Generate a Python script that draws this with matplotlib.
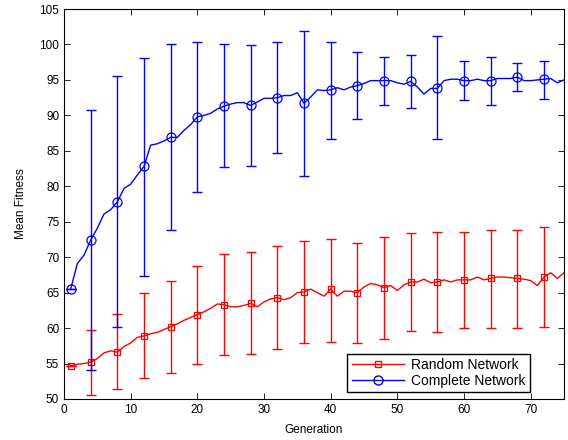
"""
Mean fitness per generation: random vs complete network.
"""

import matplotlib
matplotlib.use('Agg')
import matplotlib.pyplot as plt

# ── Data ──────────────────────────────────────────────────────
generations = list(range(1, 76))

random_mean = [
    54.7, 54.9, 55.0, 55.2, 55.7, 56.5, 56.8, 56.6, 57.4, 57.9,
    58.7, 58.9, 59.2, 59.4, 59.8, 60.2, 60.6, 61.1, 61.5, 61.9,
    62.3, 62.8, 63.4, 63.3, 63.0, 63.0, 63.2, 63.5, 63.0, 63.7,
    64.1, 64.3, 64.0, 64.3, 65.0, 65.1, 65.5, 65.0, 64.5, 65.5,
    64.5, 65.2, 65.2, 65.0, 65.8, 66.3, 66.1, 65.7, 66.0, 65.3,
    66.1, 66.5, 66.5, 66.9, 66.4, 66.5, 66.8, 66.5, 66.8, 66.8,
    66.8, 67.2, 66.8, 67.0, 67.2, 67.2, 67.1, 67.0, 66.9, 66.7,
    66.0, 67.2, 67.8, 67.0, 67.8,
]

complete_mean = [
    65.5, 69.1, 70.3, 72.4, 74.1, 76.1, 76.7, 77.8, 79.7, 80.3,
    81.6, 82.8, 85.8, 86.0, 86.4, 86.9, 86.9, 87.9, 88.7, 89.8,
    90.0, 90.3, 90.9, 91.3, 91.6, 91.8, 91.8, 91.4, 91.9, 92.4,
    92.4, 92.5, 92.8, 92.8, 93.2, 91.7, 92.6, 93.6, 93.5, 93.6,
    93.9, 93.6, 94.0, 94.2, 94.5, 94.9, 94.9, 94.9, 94.9, 94.6,
    94.4, 94.8, 94.0, 93.0, 93.8, 93.8, 94.9, 95.1, 95.1, 94.9,
    94.9, 95.1, 94.9, 94.9, 95.2, 95.2, 95.2, 95.4, 94.9, 94.9,
    95.0, 95.1, 95.2, 94.6, 95.0,
]

# generations that carry a marker and an error bar
marker_gens = [1, 4, 8, 12, 16, 20, 24, 28, 32, 36, 40, 44, 48, 52, 56, 60, 64, 68, 72]

random_upper = [54.7, 59.8, 62.0, 65.0, 66.7, 68.7, 70.4, 70.8, 71.6, 72.3,
                72.6, 72.0, 72.8, 73.4, 73.5, 73.6, 73.9, 73.9, 74.3]
random_lower = [54.7, 50.6, 51.4, 52.9, 53.7, 55.0, 56.2, 56.3, 57.1, 57.9,
                58.1, 57.9, 58.5, 59.6, 59.5, 60.0, 60.0, 60.0, 60.1]

complete_upper = [65.5, 90.8, 95.5, 98.1, 100.0, 100.3, 100.0, 99.9, 100.4, 101.9,
                  100.4, 98.9, 98.2, 98.5, 101.2, 97.7, 98.2, 97.4, 97.7]
complete_lower = [65.5, 54.1, 60.2, 67.3, 73.8, 79.2, 82.7, 82.9, 84.7, 81.4,
                  86.7, 89.5, 91.4, 91.0, 86.6, 92.2, 91.4, 93.4, 92.3]

# ── Figure ────────────────────────────────────────────────────
plt.rcParams.update({
    'font.family': ['Liberation Sans', 'DejaVu Sans'],
    'font.size': 8.5,
    'xtick.direction': 'in',
    'ytick.direction': 'in',
    'xtick.top': True,
    'ytick.right': True,
})

fig = plt.figure(figsize=(5.68, 4.40), dpi=100)
ax = fig.add_axes([0.1127, 0.0932, 0.8803, 0.8863])

series = [
    (random_mean, random_upper, random_lower, 'red', 's', 4.5, 'Random Network'),
    (complete_mean, complete_upper, complete_lower, 'blue', 'o', 6.5, 'Complete Network'),
]

handles = []
for mean, upper, lower, color, marker, msize, label in series:
    ax.plot(generations, mean, color=color, lw=1)
    mvals = [mean[g - 1] for g in marker_gens]
    err_lo = [m - lo for m, lo in zip(mvals, lower)]
    err_hi = [hi - m for m, hi in zip(mvals, upper)]
    ax.errorbar(marker_gens, mvals, yerr=[err_lo, err_hi], fmt='none',
                ecolor=color, elinewidth=1, capsize=3.5, capthick=1)
    ax.plot(marker_gens, mvals, linestyle='none', marker=marker,
            markersize=msize, markerfacecolor='none',
            markeredgecolor=color, markeredgewidth=0.9)
    handles.append(plt.Line2D([], [], color=color, lw=1, marker=marker,
                              markersize=msize, markerfacecolor='none',
                              markeredgecolor=color, label=label))

ax.set_xlim(0, 75)
ax.set_ylim(50, 105)
ax.set_xticks(range(0, 71, 10))
ax.set_yticks(range(50, 106, 5))
ax.tick_params(length=4, width=0.6, labelsize=8.5)
for s in ax.spines.values():
    s.set_linewidth(0.8)

ax.set_xlabel('Generation', fontsize=8.5, labelpad=6)
ax.set_ylabel('Mean Fitness', fontsize=8.5, labelpad=9)

leg = ax.legend(handles=handles, loc='lower right', fontsize=10,
                frameon=True, fancybox=False, framealpha=1,
                edgecolor='black', handlelength=3.8,
                bbox_to_anchor=(0.932, 0.018), borderaxespad=0,
                borderpad=0.3, labelspacing=0.15, handletextpad=0.5)
leg.get_frame().set_linewidth(1.0)

fig.savefig('out.png', dpi=100, facecolor='white')
plt.close(fig)
